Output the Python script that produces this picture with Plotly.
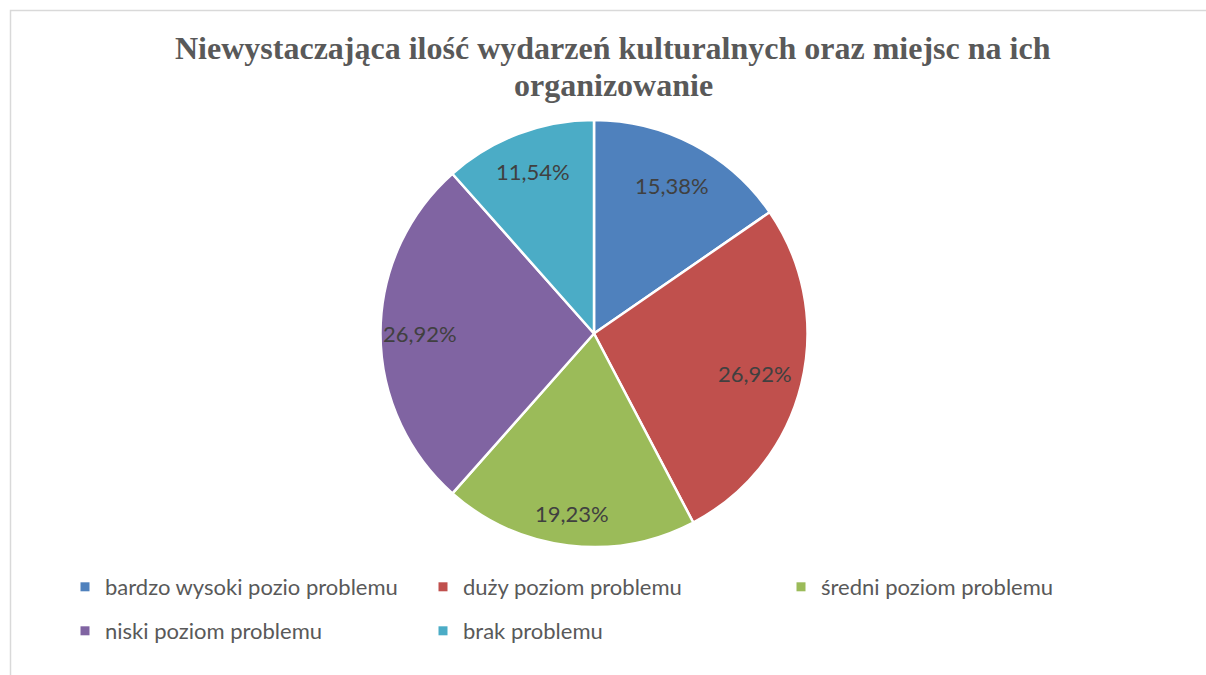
import math
import plotly.graph_objects as go

categories = ["bardzo wysoki pozio problemu", "duży poziom problemu", "średni poziom problemu",
              "niski poziom problemu", "brak problemu"]
values = [15.38, 26.92, 19.23, 26.92, 11.54]
colors = ["#4F81BD", "#C0504D", "#9BBB59", "#8064A2", "#4BACC6"]
title_lines = ["Niewystaczająca ilość wydarzeń kulturalnych oraz miejsc na ich", "organizowanie"]

# style / layout constants
W, H = 1206, 675
cx, cy, r = 594, 333.5, 213.5
label_r = [0.785, 0.775, 0.85, 0.815, 0.81]
LABEL_FONT = dict(family="Lato", size=22, color="#404040")
LEG_FONT = dict(family="Lato", size=22, color="#595959")

fig = go.Figure()
fig.add_trace(go.Pie(
    labels=categories, values=values, sort=False, direction="clockwise", rotation=0,
    marker=dict(colors=colors, line=dict(color="white", width=2.5)),
    textinfo="none", hoverinfo="label+percent", showlegend=False,
    domain=dict(x=[(cx - r) / W, (cx + r) / W], y=[1 - (cy + r) / H, 1 - (cy - r) / H]),
))

# legend entries (two rows like the reference)
for i, (cat, col) in enumerate(zip(categories, colors)):
    fig.add_trace(go.Scatter(
        x=[None], y=[None], mode="markers", name=cat,
        marker=dict(symbol="square", size=9, color=col),
        legend="legend" if i < 3 else "legend2", hoverinfo="skip",
    ))

# percentage labels placed at the middle angle of each slice
total = sum(values)
annotations = []
cum = 0.0
for i, v in enumerate(values):
    mid = (cum + v / 2) / total * 2 * math.pi
    cum += v
    px = cx + label_r[i] * r * math.sin(mid)
    py = cy - label_r[i] * r * math.cos(mid)
    txt = f"{v / total * 100:.2f}%".replace(".", ",")
    annotations.append(dict(x=px / W, y=1 - py / H, xref="paper", yref="paper", text=txt,
                            showarrow=False, xanchor="center", yanchor="middle", font=LABEL_FONT))

# title (two lines)
for line, yc in zip(title_lines, [48, 85]):
    annotations.append(dict(x=613 / W, y=1 - yc / H, xref="paper", yref="paper",
                            text=f"<b>{line}</b>", showarrow=False, xanchor="center", yanchor="middle",
                            font=dict(family="Liberation Serif", size=32, color="#595959")))

leg_common = dict(orientation="h", xanchor="left", yanchor="middle", entrywidth=313,
                  entrywidthmode="pixels", itemwidth=30, font=LEG_FONT, traceorder="normal",
                  bgcolor="rgba(0,0,0,0)", itemclick=False, itemdoubleclick=False)

fig.update_layout(
    width=W, height=H, margin=dict(l=0, r=0, t=0, b=0),
    paper_bgcolor="white", plot_bgcolor="white",
    xaxis=dict(visible=False), yaxis=dict(visible=False),
    legend=dict(x=65 / W, y=1 - 587 / H, **leg_common),
    legend2=dict(x=65 / W, y=1 - 631 / H, **leg_common),
    annotations=annotations,
    shapes=[dict(type="rect", xref="paper", yref="paper", x0=10.5 / W, y0=-0.1, x1=1.2, y1=1 - 10.5 / H,
                 line=dict(color="#D9D9D9", width=1.5), layer="below")],
)

fig.write_html("out.html", config={"displayModeBar": False},
               post_script="document.body.style.margin='0';")
